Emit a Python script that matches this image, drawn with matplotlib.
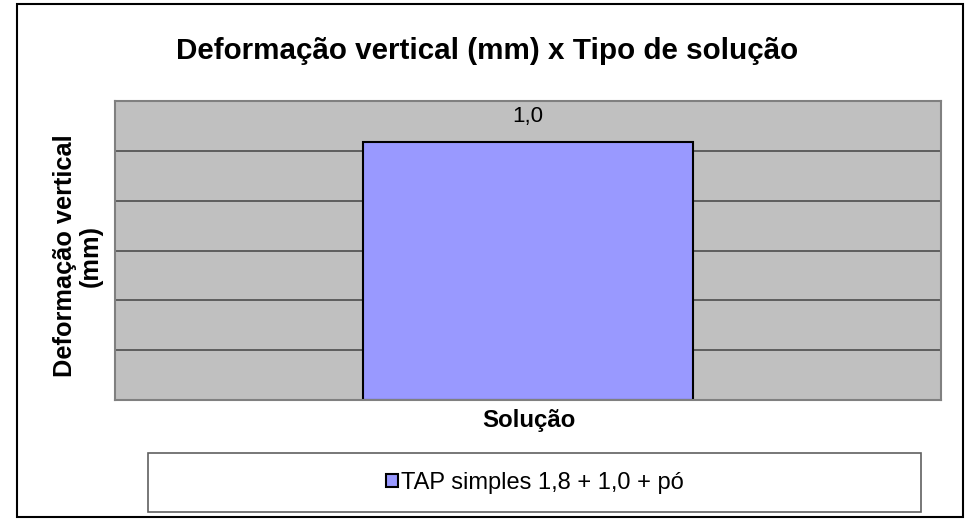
import numpy as np
import matplotlib
matplotlib.use("Agg")
import matplotlib.pyplot as plt
from matplotlib.patches import Rectangle

plt.rcParams['font.family'] = ['Liberation Sans', 'DejaVu Sans']

# dados
categorias = ['TAP simples 1,8 + 1,0 + pó']
valores = [1.035]
rotulos = ['1,0']
y_ticks = [0.0, 0.2, 0.4, 0.6, 0.8, 1.0, 1.2]

W, H = 965, 520
fig = plt.figure(figsize=(W / 100, H / 100), dpi=100)

# borda externa do grafico
fig.patches.append(Rectangle((17 / W, 1 - 517 / H), 946 / W, 513 / H,
                             transform=fig.transFigure, fill=False,
                             edgecolor='black', lw=1.5))

ax = fig.add_axes([115 / W, 1 - 400 / H, 826 / W, 299 / H])
ax.set_facecolor('#C0C0C0')
ax.set_xlim(-0.5, 0.5)
ax.set_ylim(0, 1.2)
ax.set_yticks(y_ticks)
ax.set_yticklabels([])
ax.set_xticks([])
ax.tick_params(axis='y', length=0)
ax.grid(axis='y', color='#444444', lw=1.1)
ax.set_axisbelow(True)
for s in ax.spines.values():
    s.set_color('#808080')
    s.set_linewidth(1.5)

barras = ax.bar(np.arange(len(valores)), valores, width=0.4, color='#9999FF',
                edgecolor='black', lw=1.5, label=categorias[0])
ax.bar_label(barras, labels=rotulos, padding=11, fontsize=16)

fig.text(487 / W, 1 - 59 / H, 'Deformação vertical (mm) x Tipo de solução',
         ha='center', va='baseline', fontsize=21.3, fontweight='bold')
fig.text(529 / W, 1 - 427 / H, 'Solução', ha='center', va='baseline',
         fontsize=17.3, fontweight='bold')
fig.text(78 / W, 1 - 256 / H, 'Deformação vertical\n(mm)', rotation=90,
         ha='center', va='center', multialignment='center',
         fontsize=18.3, fontweight='bold', linespacing=1.1)

# caixa da legenda
fig.patches.append(Rectangle((148 / W, 1 - 512 / H), 773 / W, 59 / H,
                             transform=fig.transFigure, facecolor='white',
                             edgecolor='#606060', lw=1.2))
fig.legend(loc='center', bbox_to_anchor=(535 / W, 1 - 483 / H),
           frameon=False, fontsize=17, handlelength=0.5, handleheight=0.5,
           handletextpad=0.15)

fig.savefig('out.png', dpi=100)
